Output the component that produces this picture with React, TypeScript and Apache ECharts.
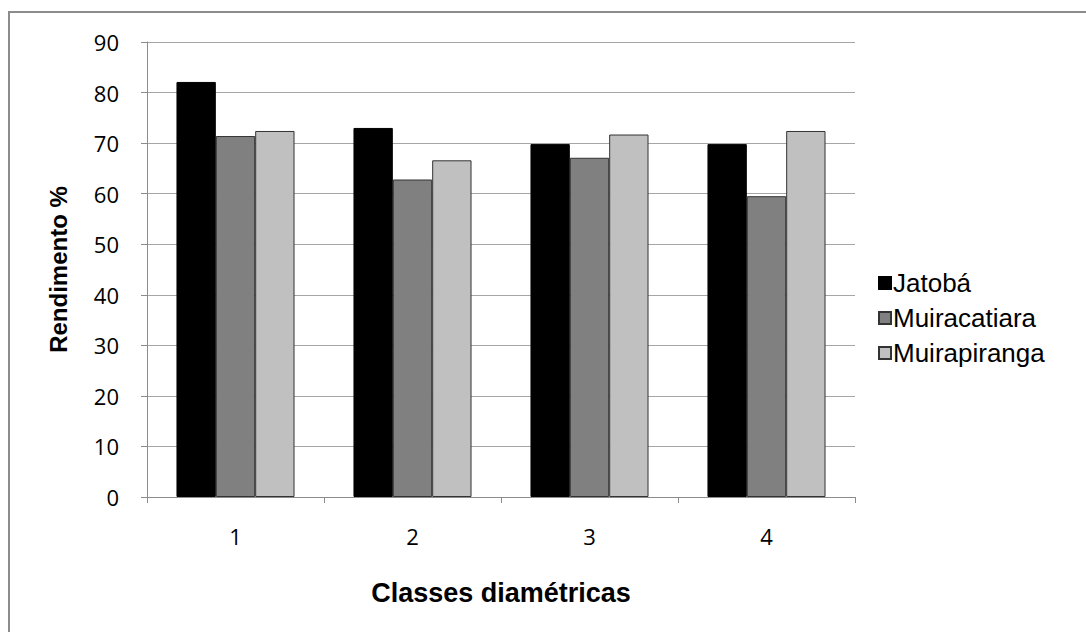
import React, { useEffect, useRef } from "react";
import * as echarts from "echarts";

const categories = ["1", "2", "3", "4"];
const jatoba = [82.1, 73.0, 69.8, 69.8];
const muiracatiara = [71.4, 62.8, 67.1, 59.5];
const muirapiranga = [72.4, 66.6, 71.7, 72.4];
const seriesNames = ["Jatobá", "Muiracatiara", "Muirapiranga"];
const seriesColors = ["#000000", "#808080", "#c0c0c0"];

const SANS = "Arial, 'Liberation Sans', sans-serif";
const TICK_FONT = "'Open Sans', sans-serif";

export default function App() {
  const ref = useRef<HTMLDivElement>(null);

  useEffect(() => {
    if (!ref.current) return;
    const chart = echarts.init(ref.current, null, { renderer: "svg" });
    const values = [jatoba, muiracatiara, muirapiranga];
    chart.setOption({
      animation: false,
      backgroundColor: "#ffffff",
      graphic: [
        {
          type: "rect",
          shape: { x: 9, y: 12, width: 1100, height: 700 },
          style: { fill: "none", stroke: "#8c8c8c", lineWidth: 2 },
          silent: true,
        },
      ],
      grid: { left: 147, right: 231, top: 42, bottom: 135 },
      legend: {
        orient: "vertical",
        left: 873,
        top: 265,
        itemWidth: 12,
        itemHeight: 12,
        itemGap: 9,
        icon: "rect",
        textStyle: { fontFamily: SANS, fontSize: 26, color: "#000", padding: [0, 0, 0, -3] },
        data: seriesNames,
      },
      xAxis: {
        type: "category",
        data: categories,
        name: "Classes diamétricas",
        nameLocation: "middle",
        nameGap: 82,
        nameMoveOverlap: false,
        nameTextStyle: { fontFamily: SANS, fontSize: 27, fontWeight: "bold", color: "#000" },
        axisLine: { lineStyle: { color: "#8c8c8c", width: 1 } },
        axisTick: { show: true, length: 6, alignWithLabel: false, lineStyle: { color: "#8c8c8c" } },
        axisLabel: { margin: 28, fontFamily: TICK_FONT, fontSize: 22, color: "#000" },
      },
      yAxis: {
        type: "value",
        min: 0,
        max: 90,
        interval: 10,
        name: "Rendimento %",
        nameLocation: "middle",
        nameGap: 77,
        nameMoveOverlap: false,
        nameRotate: 90,
        nameTextStyle: { fontFamily: SANS, fontSize: 24, fontWeight: "bold", color: "#000" },
        axisLine: { show: true, lineStyle: { color: "#8c8c8c", width: 1 } },
        axisTick: { show: true, length: 6, lineStyle: { color: "#8c8c8c" } },
        axisLabel: { margin: 28, fontFamily: TICK_FONT, fontSize: 22, color: "#000" },
        splitLine: { show: true, lineStyle: { color: "#a6a6a6", width: 1 } },
      },
      series: seriesNames.map((name, i) => ({
        name,
        type: "bar",
        data: values[i],
        barGap: "0%",
        barCategoryGap: "33.3%",
        itemStyle: { color: seriesColors[i], borderColor: i === 0 ? "#000" : "#333", borderWidth: 1 },
      })),
    });
    return () => chart.dispose();
  }, []);

  return (
    <div
      ref={ref}
      style={{ position: "absolute", left: 0, top: 0, width: 1086, height: 632 }}
    />
  );
}
